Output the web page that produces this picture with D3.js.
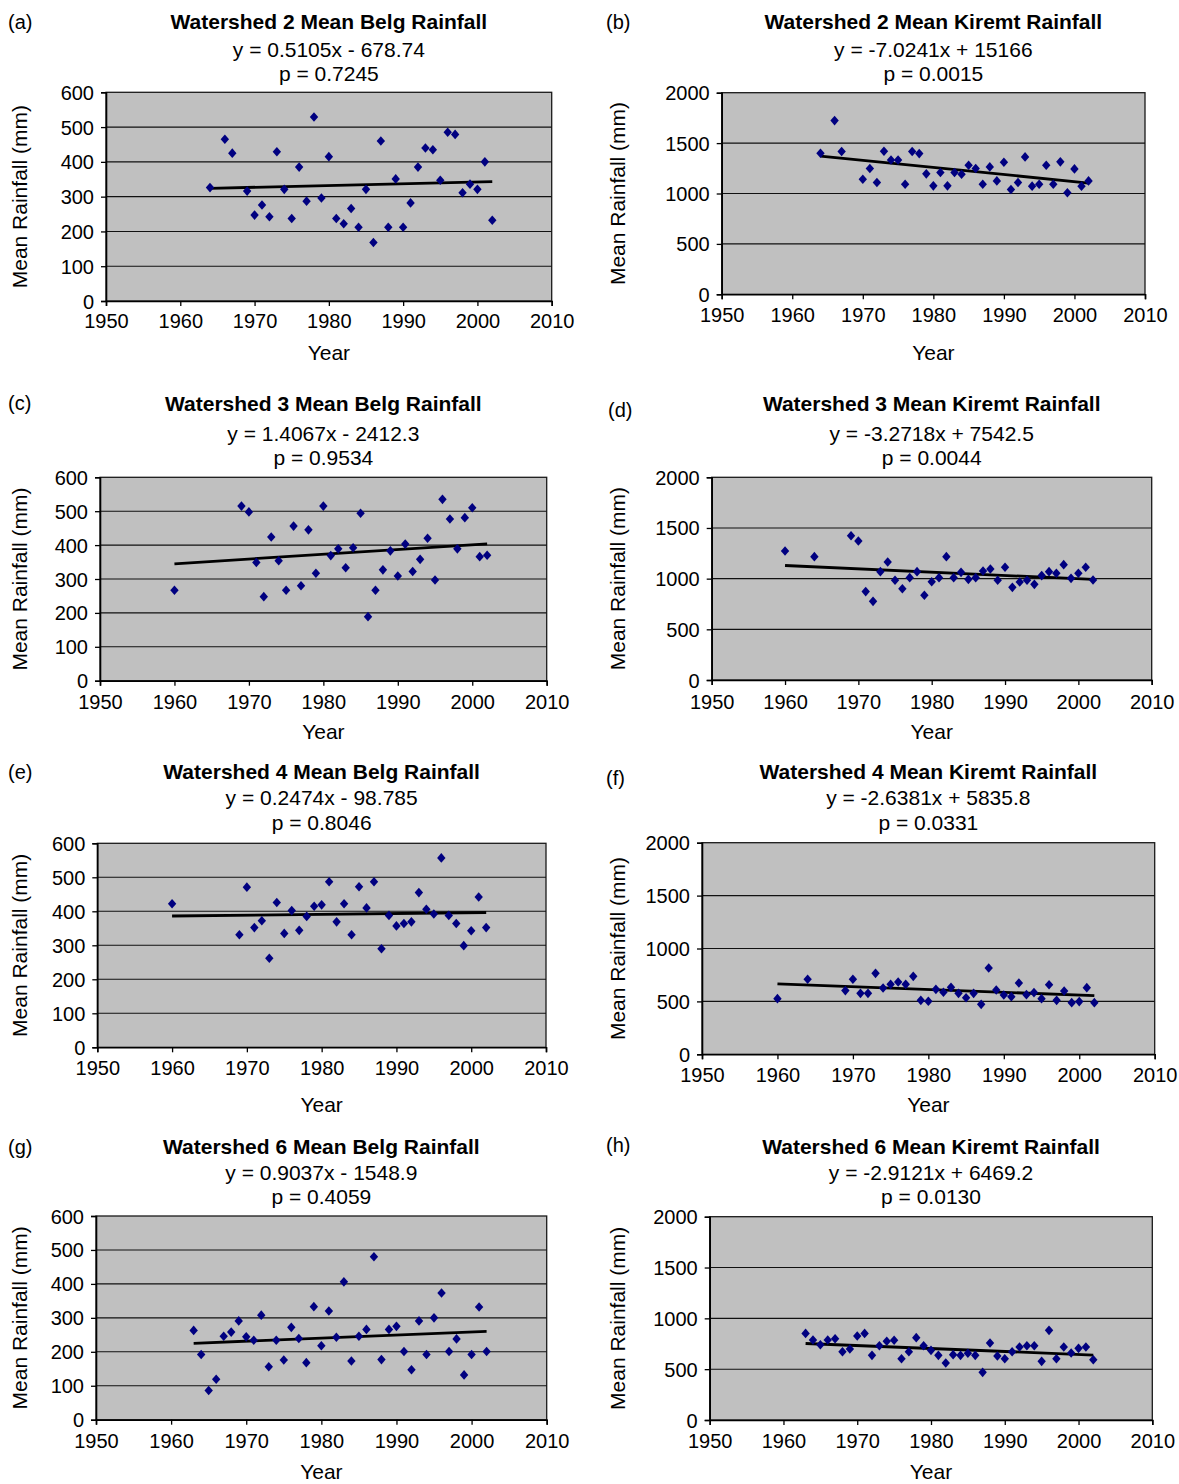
<!DOCTYPE html>
<html><head><meta charset="utf-8">
<script src="https://cdn.jsdelivr.net/npm/d3@7"></script>
<style>
body{margin:0;background:#fff;}
svg text{font-family:"Liberation Sans",Arial,Helvetica,sans-serif;fill:#000;}
</style></head>
<body><svg id="c" width="1179" height="1484"></svg>
<script>
// ---------- DATA ----------
const yearsA = [1964,1966,1967,1969,1970,1971,1972,1973,1974,1975,1976,1977,1978,1979,1980,1981,1982,1983,1984,1985,1986,1987,1988,1989,1990,1991,1992,1993,1994,1995,1996,1997,1998,1999,2000,2001,2002];
const rainA  = [326,465,425,316,247,276,242,429,321,237,385,287,529,296,415,237,222,266,212,321,168,460,212,351,212,282,385,440,435,347,485,479,311,336,321,400,232];

const yearsB = [1964,1966,1967,1970,1971,1972,1973,1974,1975,1976,1977,1978,1979,1980,1981,1982,1983,1984,1985,1986,1987,1988,1989,1990,1991,1992,1993,1994,1995,1996,1997,1998,1999,2000,2001,2002];
const rainB  = [1399,1723,1416,1142,1248,1109,1419,1333,1333,1092,1416,1396,1195,1076,1208,1076,1208,1191,1280,1248,1092,1264,1125,1310,1040,1109,1363,1073,1092,1280,1092,1314,1007,1244,1073,1125];

const yearsC = [1960,1969,1970,1971,1972,1973,1974,1975,1976,1977,1978,1979,1980,1981,1982,1983,1984,1985,1986,1987,1988,1989,1990,1991,1992,1993,1994,1995,1996,1997,1998,1999,2000,2001,2002];
const rainC  = [267,515,498,349,248,424,354,267,456,280,445,317,515,369,389,333,392,494,189,267,327,383,309,403,322,358,420,297,535,477,389,481,510,366,370];

const yearsD = [1960,1964,1969,1970,1971,1972,1973,1974,1975,1976,1977,1978,1979,1980,1981,1982,1983,1984,1985,1986,1987,1988,1989,1990,1991,1992,1993,1994,1995,1996,1997,1998,1999,2000,2001,2002];
const rainD  = [1273,1217,1424,1372,872,776,1069,1164,984,901,1010,1069,836,970,1010,1217,1010,1062,993,1010,1076,1095,984,1112,914,967,984,944,1030,1069,1053,1138,1003,1053,1112,987];

const yearsE = [1960,1969,1970,1971,1972,1973,1974,1975,1976,1977,1978,1979,1980,1981,1982,1983,1984,1985,1986,1987,1988,1989,1990,1991,1992,1993,1994,1995,1996,1997,1998,1999,2000,2001,2002];
const rainE  = [422,331,471,352,372,262,426,335,402,344,385,415,419,487,369,422,331,472,410,487,290,388,357,364,369,455,406,392,557,388,364,299,343,442,352];

const yearsF = [1960,1964,1969,1970,1971,1972,1973,1974,1975,1976,1977,1978,1979,1980,1981,1982,1983,1984,1985,1986,1987,1988,1989,1990,1991,1992,1993,1994,1995,1996,1997,1998,1999,2000,2001,2002];
const rainF  = [526,709,602,709,576,576,765,627,661,683,661,737,510,501,614,586,633,576,535,576,472,816,608,561,545,674,564,583,526,658,510,598,488,498,630,488];

const yearsG = [1963,1964,1965,1966,1967,1968,1969,1970,1971,1972,1973,1974,1975,1976,1977,1978,1979,1980,1981,1982,1983,1984,1985,1986,1987,1988,1989,1990,1991,1992,1993,1994,1995,1996,1997,1998,1999,2000,2001,2002];
const rainG  = [263,192,86,119,246,258,291,244,234,308,156,234,176,272,239,168,333,218,320,243,406,173,246,266,480,177,266,275,201,147,291,192,300,373,201,238,132,192,332,201];

const yearsH = [1963,1964,1965,1966,1967,1968,1969,1970,1971,1972,1973,1974,1975,1976,1977,1978,1979,1980,1981,1982,1983,1984,1985,1986,1987,1988,1989,1990,1991,1992,1993,1994,1995,1996,1997,1998,1999,2000,2001,2002];
const rainH  = [852,787,741,787,800,672,698,826,852,636,731,774,784,603,672,810,731,685,636,561,643,636,656,636,469,757,630,603,672,718,731,731,577,882,603,718,659,705,718,593];

const panelLetters = ["(a)","(b)","(c)","(d)","(e)","(f)","(g)","(h)"];
const titles = ["Watershed 2 Mean Belg Rainfall","Watershed 2 Mean Kiremt Rainfall",
  "Watershed 3 Mean Belg Rainfall","Watershed 3 Mean Kiremt Rainfall",
  "Watershed 4 Mean Belg Rainfall","Watershed 4 Mean Kiremt Rainfall",
  "Watershed 6 Mean Belg Rainfall","Watershed 6 Mean Kiremt Rainfall"];
const equations = ["y = 0.5105x - 678.74","y = -7.0241x + 15166","y = 1.4067x - 2412.3","y = -3.2718x + 7542.5",
  "y = 0.2474x - 98.785","y = -2.6381x + 5835.8","y = 0.9037x - 1548.9","y = -2.9121x + 6469.2"];
const slopes = [0.5105,-7.0241,1.4067,-3.2718,0.2474,-2.6381,0.9037,-2.9121];
const intercepts = [-678.74,15166,-2412.3,7542.5,-98.785,5835.8,-1548.9,6469.2];
const pLabels = ["p = 0.7245","p = 0.0015","p = 0.9534","p = 0.0044","p = 0.8046","p = 0.0331","p = 0.4059","p = 0.0130"];
const belgTicks = [0,100,200,300,400,500,600];
const kiremtTicks = [0,500,1000,1500,2000];
const yearTicks = [1950,1960,1970,1980,1990,2000,2010];
const yLabel = "Mean Rainfall (mm)";
const xLabel = "Year";

// ---------- LAYOUT ----------
const seriesYears = [yearsA,yearsB,yearsC,yearsD,yearsE,yearsF,yearsG,yearsH];
const seriesRain  = [rainA,rainB,rainC,rainD,rainE,rainF,rainG,rainH];
const boxes = [
  {x0:106,x1:551.7,y0:92.3,y1:301},
  {x0:721.7,x1:1145,y0:92.7,y1:294.3},
  {x0:100,x1:546.7,y0:477.3,y1:680.7},
  {x0:711.7,x1:1151.7,y0:477.3,y1:680},
  {x0:97.3,x1:546,y0:843.3,y1:1047.3},
  {x0:702,x1:1154.7,y0:842.7,y1:1054.3},
  {x0:96,x1:546.7,y0:1216,y1:1419.7},
  {x0:709.7,x1:1152.3,y0:1216.7,y1:1420}
];
const textY = [ // title, eq, p, tick labels, Year
  [22,50,74,321,353],[22,50,74,315,353],
  [404,434,458,702,732],[404,434,458,702,732],
  [772,798,823,1068,1105],[772,798,823,1075,1105],
  [1147,1173,1197,1441,1472],[1147,1173,1197,1441,1472]
];
const letterPos = [[8,22],[606,22],[8,403],[608,410],[8,772],[606,778],[8,1147],[606,1145]];
const yLabelX = [20,618,20,618,20,618,20,618];

const svg = d3.select("#c");
const diamond = "M0,-4.8L4.2,0L0,4.8L-4.2,0Z";

for (let i=0;i<8;i++){
  const b = boxes[i];
  const kiremt = i%2===1;
  const ticks = kiremt ? kiremtTicks : belgTicks;
  const x = d3.scaleLinear().domain([1950,2010]).range([b.x0,b.x1]);
  const y = d3.scaleLinear().domain([0, ticks[ticks.length-1]]).range([b.y1,b.y0]);
  const g = svg.append("g");

  g.append("rect").attr("x",b.x0).attr("y",b.y0).attr("width",b.x1-b.x0).attr("height",b.y1-b.y0)
    .attr("fill","#c0c0c0").attr("stroke","#1a1a1a").attr("stroke-width",1.3);

  // gridlines
  g.selectAll(".grid").data(ticks.slice(1,-1)).join("line")
    .attr("x1",b.x0).attr("x2",b.x1).attr("y1",d=>y(d)).attr("y2",d=>y(d))
    .attr("stroke","#111").attr("stroke-width",1.1);

  // axes
  const ya = d3.axisLeft(y).tickValues(ticks).tickSize(5).tickPadding(7).tickFormat(d3.format("d"));
  const ag = g.append("g").attr("transform",`translate(${b.x0},0)`).call(ya);
  const xa = d3.axisBottom(x).tickValues(yearTicks).tickSize(5).tickPadding(4).tickFormat(d3.format("d"));
  const xg = g.append("g").attr("transform",`translate(0,${b.y1})`).call(xa);
  [ag,xg].forEach(a=>{
    a.select(".domain").attr("stroke","#000").attr("stroke-width",1.6);
    a.selectAll(".tick line").attr("stroke","#000").attr("stroke-width",1.3);
    a.selectAll("text").attr("font-size",20).attr("font-family","Liberation Sans, Arial, sans-serif").attr("fill","#000");
  });
  ag.selectAll(".tick text").attr("dy","0.35em");
  xg.selectAll(".tick text").attr("y",null).attr("dy",null)
    .attr("transform",`translate(0,${textY[i][3]-b.y1})`).attr("dominant-baseline","central");

  // trend line
  const ys = seriesYears[i];
  const x0 = ys[0], x1 = ys[ys.length-1];
  g.append("line").attr("x1",x(x0)).attr("x2",x(x1))
    .attr("y1",y(slopes[i]*x0+intercepts[i])).attr("y2",y(slopes[i]*x1+intercepts[i]))
    .attr("stroke","#000").attr("stroke-width",2.8);

  // points
  g.selectAll(".pt").data(ys.map((yr,k)=>[yr,seriesRain[i][k]])).join("path")
    .attr("d",diamond).attr("fill","#000080")
    .attr("transform",d=>`translate(${x(d[0])},${y(d[1])})`);

  const cx = (b.x0+b.x1)/2;
  g.append("text").attr("x",cx).attr("y",textY[i][0]).attr("text-anchor","middle").attr("dy","0.35em")
    .attr("font-size",21).attr("font-weight","bold").text(titles[i]);
  g.append("text").attr("x",cx).attr("y",textY[i][1]).attr("text-anchor","middle").attr("dy","0.35em")
    .attr("font-size",21).text(equations[i]);
  g.append("text").attr("x",cx).attr("y",textY[i][2]).attr("text-anchor","middle").attr("dy","0.35em")
    .attr("font-size",21).text(pLabels[i]);
  g.append("text").attr("x",cx).attr("y",textY[i][4]).attr("text-anchor","middle").attr("dy","0.35em")
    .attr("font-size",21).text(xLabel);
  g.append("text").attr("transform",`translate(${yLabelX[i]},${(b.y0+b.y1)/2}) rotate(-90)`)
    .attr("text-anchor","middle").attr("dy","0.35em").attr("font-size",21).text(yLabel);
  g.append("text").attr("x",letterPos[i][0]).attr("y",letterPos[i][1]).attr("dy","0.35em")
    .attr("font-size",20).text(panelLetters[i]);
}
</script></body></html>
